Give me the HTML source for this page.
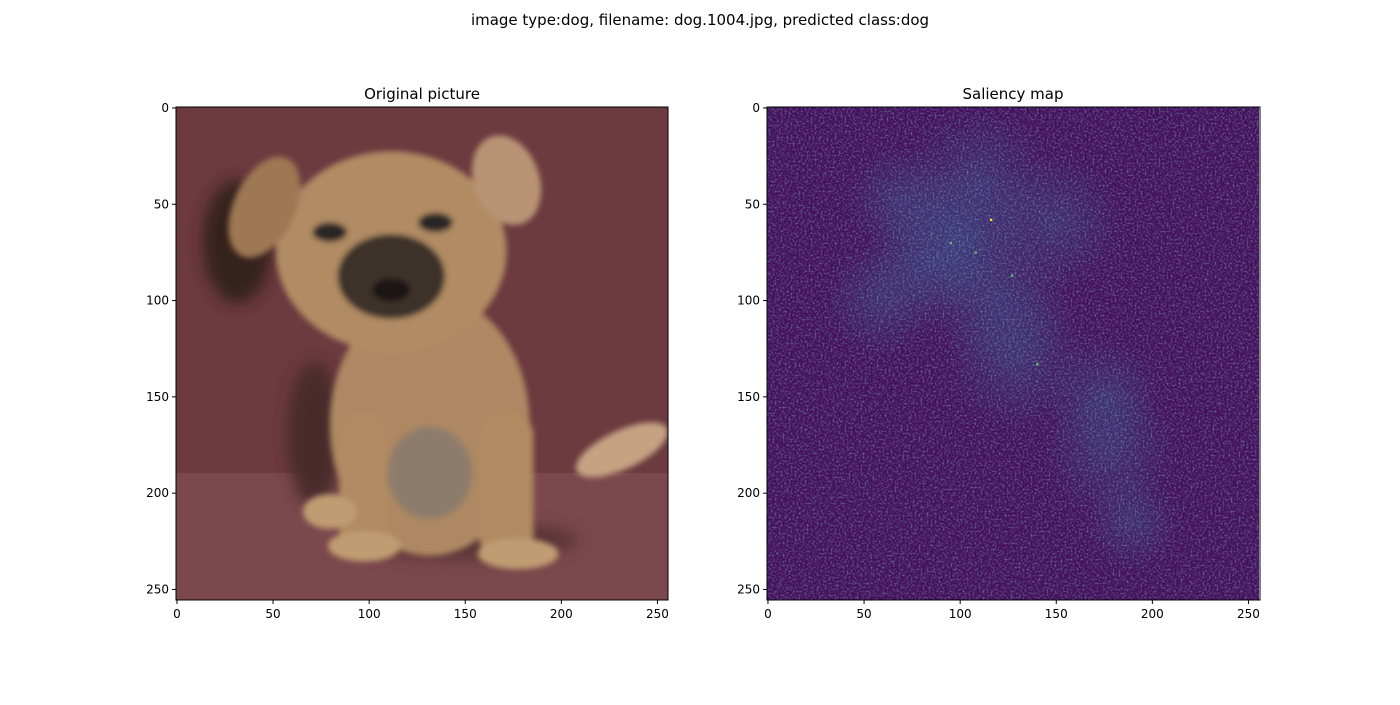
<!DOCTYPE html>
<html><head><meta charset="utf-8">
<style>
body{margin:0;background:#fff;width:1400px;height:700px;overflow:hidden;font-family:"Liberation Sans","DejaVu Sans",sans-serif;}
svg text{font-family:"DejaVu Sans","Liberation Sans",sans-serif;}
</style></head>
<body>
<svg id="fig" width="1400" height="700" viewBox="0 0 1400 700" xmlns="http://www.w3.org/2000/svg">
<defs>
<filter id="noise" x="0" y="0" width="100%" height="100%">
<feTurbulence type="fractalNoise" baseFrequency="0.5" numOctaves="2" seed="4"/>
<feColorMatrix type="matrix" values="0 0 0 0 0.2  0 0 0 0 0.4  0 0 0 0 0.55  0 0 0 1.8 -0.8"/>
</filter>
<filter id="blur2"><feGaussianBlur stdDeviation="1.5"/></filter>
<filter id="blur4"><feGaussianBlur stdDeviation="4"/></filter>
<radialGradient id="glow"><stop offset="0" stop-color="#3b528b" stop-opacity="0.45"/><stop offset="1" stop-color="#3b528b" stop-opacity="0"/></radialGradient>
<clipPath id="clipL"><rect x="0" y="0" width="256" height="256"/></clipPath>
<clipPath id="clipR"><rect x="0" y="0" width="256" height="256"/></clipPath>
<clipPath id="clipN"><rect x="0" y="0" width="492" height="493"/></clipPath>
</defs>
<text x="700" y="25" font-size="15" text-anchor="middle">image type:dog, filename: dog.1004.jpg, predicted class:dog</text>
<text x="422" y="99" font-size="15" text-anchor="middle">Original picture</text>
<text x="1013" y="99" font-size="15" text-anchor="middle">Saliency map</text>

<g transform="translate(176,107) scale(1.922,1.926)" clip-path="url(#clipL)">
<rect width="256" height="256" fill="#6c3a3f"/>
<rect y="190" width="256" height="66" fill="#7b484d"/>
<g filter="url(#blur4)">
<ellipse cx="32" cy="70" rx="18" ry="32" fill="#35201f"/>
<ellipse cx="72" cy="170" rx="14" ry="38" fill="#4a2a2a"/>
<ellipse cx="150" cy="225" rx="60" ry="10" fill="#5a3436"/>
</g>
<g filter="url(#blur2)">
<ellipse cx="232" cy="178" rx="26" ry="10" fill="#c4a282" transform="rotate(-25 232 178)"/>
<ellipse cx="132" cy="165" rx="52" ry="68" fill="#ad8862"/>
<ellipse cx="132" cy="190" rx="22" ry="24" fill="#8d7c6c"/>
<ellipse cx="112" cy="75" rx="60" ry="52" fill="#b08b63"/>
<ellipse cx="46" cy="52" rx="16" ry="28" fill="#9e7753" transform="rotate(25 46 52)"/>
<ellipse cx="172" cy="38" rx="17" ry="24" fill="#b89474" transform="rotate(-20 172 38)"/>
<ellipse cx="112" cy="88" rx="28" ry="22" fill="#3e302c"/>
<ellipse cx="112" cy="95" rx="10" ry="6" fill="#1e1716"/>
<ellipse cx="80" cy="65" rx="9" ry="5" fill="#2a2525"/>
<ellipse cx="135" cy="60" rx="9" ry="5" fill="#2a2525"/>
<rect x="85" y="160" width="25" height="75" rx="10" fill="#b08a62"/>
<rect x="158" y="160" width="28" height="75" rx="10" fill="#b08a62"/>
<ellipse cx="80" cy="210" rx="14" ry="9" fill="#c09c72"/>
<ellipse cx="98" cy="228" rx="19" ry="8" fill="#c09c72"/>
<ellipse cx="178" cy="232" rx="21" ry="8" fill="#c09c72"/>
</g>
</g>
<rect x="176" y="107" width="492" height="493" fill="none" stroke="#000" stroke-width="1"/>

<g id="sal" transform="translate(767,107) scale(1.922,1.926)" clip-path="url(#clipR)">
<rect width="256" height="256" fill="#450f5c"/>
</g>
<g transform="translate(767,107)" clip-path="url(#clipN)">
<rect width="492" height="493" filter="url(#noise)" opacity="0.8"/>
</g>
<rect x="767" y="107" width="493" height="493" fill="none" stroke="#000" stroke-width="1"/>
<g id="ticks"></g>
</svg>
<script>
const tickValues = [0, 50, 100, 150, 200, 250];
const tickLabels = ["0", "50", "100", "150", "200", "250"];
const blobX = [100, 121, 178, 69, 150, 60, 190, 130, 175, 110, 85];
const blobY = [69, 100, 178, 48, 60, 100, 215, 130, 150, 40, 80];
const blobR = [40, 38, 35, 28, 35, 30, 25, 38, 30, 40, 35];
const hotX = [116, 95, 127, 108, 140];
const hotY = [58, 70, 87, 75, 133];

const NS = "http://www.w3.org/2000/svg";
const sal = document.getElementById('sal');
blobX.forEach((x, i) => {
  const c = document.createElementNS(NS, 'circle');
  c.setAttribute('cx', x); c.setAttribute('cy', blobY[i]); c.setAttribute('r', blobR[i]);
  c.setAttribute('fill', 'url(#glow)');
  
  
  sal.appendChild(c);
});
hotX.forEach((x, i) => {
  const r = document.createElementNS(NS, 'rect');
  r.setAttribute('x', x); r.setAttribute('y', hotY[i]); r.setAttribute('width', 1.2); r.setAttribute('height', 1.2);
  r.setAttribute('fill', i === 0 ? '#fde725' : '#5ec962');
  
  
  sal.appendChild(r);
});
const g = document.getElementById('ticks');
const axes = [{x0: 176, name: 'left'}, {x0: 767, name: 'right'}];
const y0 = 107, sx = 1.922, sy = 1.926, bottom = 600;
axes.forEach(a => {
  tickValues.forEach((v, i) => {
    const px = a.x0 + (v + 0.5) * sx;
    const py = y0 + (v + 0.5) * sy;
    const l1 = document.createElementNS(NS, 'line');
    l1.setAttribute('x1', px); l1.setAttribute('x2', px); l1.setAttribute('y1', bottom); l1.setAttribute('y2', bottom + 4);
    l1.setAttribute('stroke', '#000');
    
    
    g.appendChild(l1);
    const t1 = document.createElementNS(NS, 'text');
    t1.setAttribute('x', px); t1.setAttribute('y', bottom + 18); t1.setAttribute('font-size', '12'); t1.setAttribute('text-anchor', 'middle');
    t1.textContent = tickLabels[i];
    
    
    g.appendChild(t1);
    const l2 = document.createElementNS(NS, 'line');
    l2.setAttribute('x1', a.x0 - 4); l2.setAttribute('x2', a.x0); l2.setAttribute('y1', py); l2.setAttribute('y2', py);
    l2.setAttribute('stroke', '#000');
    
    
    g.appendChild(l2);
    const t2 = document.createElementNS(NS, 'text');
    t2.setAttribute('x', a.x0 - 7); t2.setAttribute('y', py + 4); t2.setAttribute('font-size', '12'); t2.setAttribute('text-anchor', 'end');
    t2.textContent = tickLabels[i];
    
    
    g.appendChild(t2);
  });
});
</script>
</body></html>
